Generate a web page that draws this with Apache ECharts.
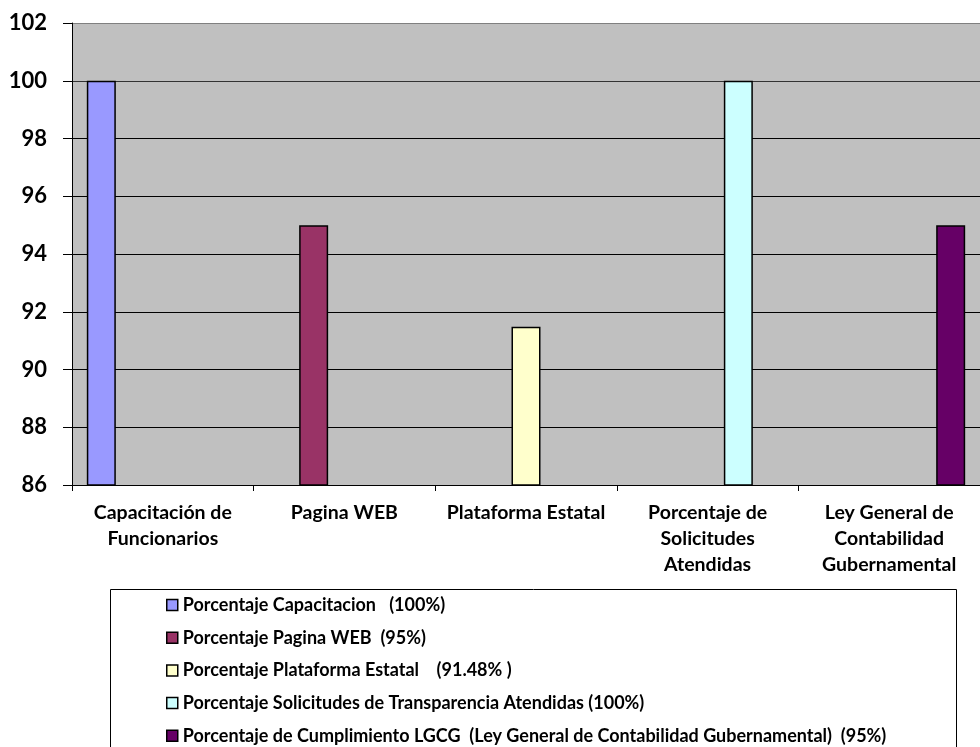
<!DOCTYPE html>
<html>
<head>
<meta charset="utf-8">
<script src="https://cdn.jsdelivr.net/npm/echarts@6/dist/echarts.min.js"></script>
<style>
html,body{margin:0;padding:0;background:#fff;}
#c{width:980px;height:747px;}
</style>
</head>
<body>
<div id="c"></div>
<script>
const categories = [
  "Capacitación de\nFuncionarios",
  "Pagina WEB",
  "Plataforma Estatal",
  "Porcentaje de\nSolicitudes\nAtendidas",
  "Ley General de\nContabilidad\nGubernamental"
];
const seriesNames = [
  "Porcentaje Capacitacion   (100%)",
  "Porcentaje Pagina WEB  (95%)",
  "Porcentaje Plataforma Estatal    (91.48% )",
  "Porcentaje Solicitudes de Transparencia Atendidas (100%)",
  "Porcentaje de Cumplimiento LGCG  (Ley General de Contabilidad Gubernamental)  (95%)"
];
const values = [100, 95, 91.48, 100, 95];
const colors = ["#9999FF", "#993366", "#FFFFCC", "#CCFFFF", "#660066"];
const yMin = 86, yMax = 102, yStep = 2;

const FONT = "Lato";
const chart = echarts.init(document.getElementById('c'));
const series = seriesNames.map((name, i) => ({
  name: name,
  type: 'bar',
  barWidth: 29,
  barGap: '6%',
  data: categories.map((c, j) => (j === i ? values[i] : null)),
  itemStyle: { color: colors[i], borderColor: '#000', borderWidth: 1.5 }
}));

chart.setOption({
  animation: false,
  color: colors,
  graphic: [{
    type: 'rect',
    z: -1,
    shape: { x: 110.5, y: 589.5, width: 846, height: 200 },
    style: { fill: '#fff', stroke: '#000', lineWidth: 1 }
  }],
  grid: {
    left: 72, top: 23, width: 918, height: 462,
    show: true, backgroundColor: '#C0C0C0', borderWidth: 0
  },
  legend: {
    orient: 'vertical',
    left: 166,
    top: 595,
    height: 300,
    padding: 0,
    itemWidth: 11,
    itemHeight: 11,
    itemGap: 12.7,
    icon: 'rect',
    itemStyle: { borderColor: '#000', borderWidth: 1.5 },
    textStyle: { fontFamily: FONT, fontWeight: 'bold', fontSize: 18, color: '#000', lineHeight: 20 },
    data: seriesNames
  },
  xAxis: {
    type: 'category',
    data: categories,
    axisLine: { lineStyle: { color: '#000', width: 1 } },
    axisTick: { show: true, length: 6, lineStyle: { color: '#000' } },
    axisLabel: {
      interval: 0, margin: 15,
      fontFamily: FONT, fontWeight: 'bold', fontSize: 19.5, color: '#000', lineHeight: 26
    }
  },
  yAxis: {
    type: 'value',
    min: yMin, max: yMax, interval: yStep,
    axisLine: { show: true, lineStyle: { color: '#000', width: 1 } },
    axisTick: { show: true, length: 9, lineStyle: { color: '#000' } },
    axisLabel: { margin: 25, fontFamily: FONT, fontWeight: 'bold', fontSize: 22, color: '#000' },
    splitLine: { show: true, lineStyle: { color: ['#000','#000','#000','#000','#000','#000','#000','#333','#808080'], width: 1 } }
  },
  series: series
});
</script>
</body>
</html>
